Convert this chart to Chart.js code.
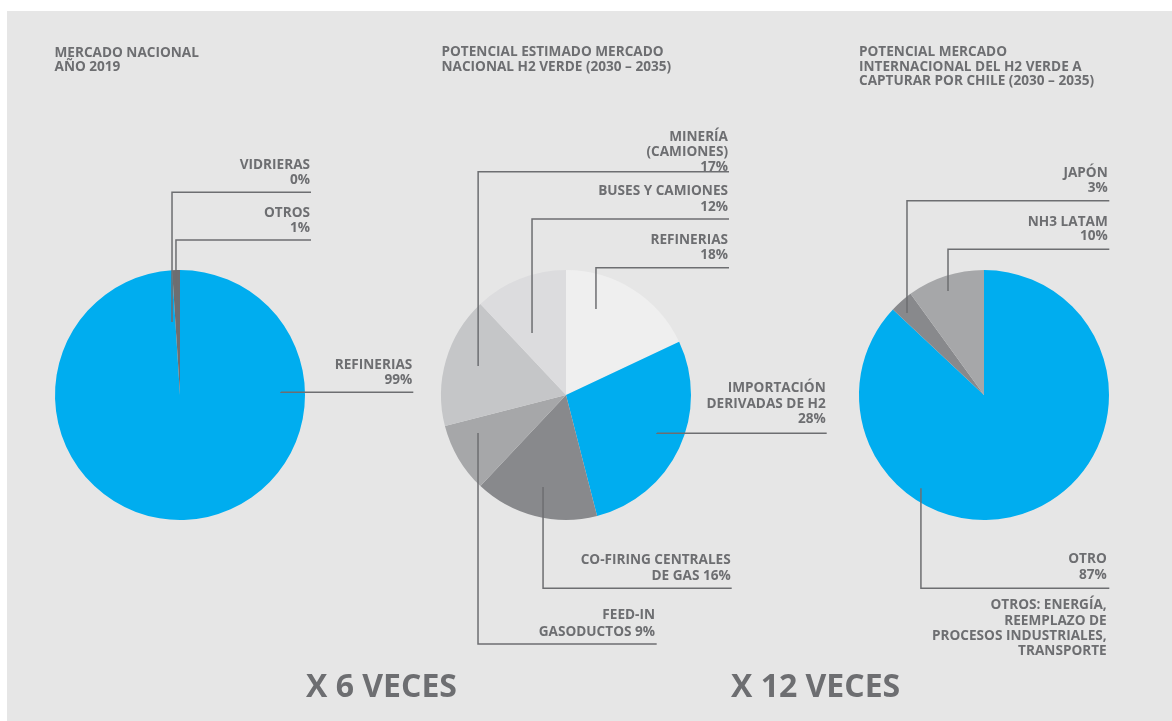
<!DOCTYPE html>
<html>
<head>
<meta charset="utf-8">
<script src="https://cdn.jsdelivr.net/npm/chart.js@4.4.1/dist/chart.umd.min.js"></script>
<style>
  html, body { margin: 0; padding: 0; background: #ffffff; width: 1172px; height: 721px; overflow: hidden; }
  #panel { position: absolute; left: 7px; top: 11px; width: 1165px; height: 710px; background: #e6e6e6; }
  canvas { position: absolute; left: 0; top: 0; pointer-events: none; }
</style>
</head>
<body>
<div id="panel"></div>
<canvas id="c1" width="1172" height="721"></canvas>
<canvas id="c2" width="1172" height="721"></canvas>
<canvas id="c3" width="1172" height="721"></canvas>
<script>
// ---------------- DATA ----------------
const pie1Names  = [['REFINERIAS'], ['VIDRIERAS'], ['OTROS']];
const pie1Values = [99, 0, 1];
const pie1Colors = ['#00adef', '#8a8b8e', '#6d6e71'];
const pie1Title  = ['MERCADO NACIONAL', 'AÑO 2019'];

const pie2Names  = [['REFINERIAS'], ['IMPORTACIÓN', 'DERIVADAS DE H2'], ['CO-FIRING CENTRALES', 'DE GAS'],
                    ['FEED-IN', 'GASODUCTOS'], ['MINERÍA', '(CAMIONES)'], ['BUSES Y CAMIONES']];
const pie2Values = [18, 28, 16, 9, 17, 12];
const pie2Colors = ['#efefef', '#00adef', '#88898c', '#a6a7a9', '#c5c6c8', '#dcdcde'];
const pie2Title  = ['POTENCIAL ESTIMADO MERCADO', 'NACIONAL H2 VERDE (2030 – 2035)'];
const pie2Growth = 'X 6 VECES';

const pie3Names  = [['OTRO'], ['JAPÓN'], ['NH3 LATAM']];
const pie3Values = [87, 3, 10];
const pie3Colors = ['#00adef', '#88898c', '#a6a7a9'];
const pie3Title  = ['POTENCIAL MERCADO', 'INTERNACIONAL DEL H2 VERDE A', 'CAPTURAR POR CHILE (2030 – 2035)'];
const pie3Note   = ['OTROS: ENERGÍA,', 'REEMPLAZO DE', 'PROCESOS INDUSTRIALES,', 'TRANSPORTE'];
const pie3Growth = 'X 12 VECES';

// ---------------- LAYOUT (label placement only) ----------------
const TEXT = '#6d6e71';
const FONT = 'bold 13.6px "Open Sans", "DejaVu Sans", sans-serif';
const BIG  = 'bold 32px "Open Sans", "DejaVu Sans", sans-serif';

// anchor: angle (deg, clockwise from top) & radius fraction inside the arc
const layout1 = [
  { ang: 88.3,  rf: 0.808, lineY: 392.3, endX: 413.3, right: 412.3, base: [369, 384], inline: false },
  { ang: 353.75, rf: 0.587, lineY: 192.3, endX: 311,  right: 310,   base: [169, 184], inline: false },
  { ang: 357.8, rf: 0.84,  lineY: 240,   endX: 311,   right: 310,   base: [216.5, 231.7], inline: false }
];
const layout2 = [
  { ang: 19.2,  rf: 0.729, lineY: 267.7, endX: 729,   right: 728,   base: [244, 258.5], inline: false },
  { ang: 112.7, rf: 0.789, lineY: 433.3, endX: 826.7, right: 825.7, base: [392.3, 408.3, 423.3], inline: false },
  { ang: 194,   rf: 0.759, lineY: 588.3, endX: 731.7, right: 730.7, base: [564.3, 580], inline: true },
  { ang: 246.6, rf: 0.767, lineY: 644,   endX: 656.7, right: 655,   base: [619.3, 635.7], inline: true },
  { ang: 288.2, rf: 0.74,  lineY: 171.7, endX: 729,   right: 728,   base: [141, 156, 171], inline: false },
  { ang: 331.3, rf: 0.566, lineY: 219,   endX: 729,   right: 728,   base: [195, 211], inline: false }
];
const layout3 = [
  { ang: 214.1, rf: 0.9,  lineY: 588.3, endX: 1109.3, right: 1106.7, base: [562.7, 579], inline: false },
  { ang: 316.8, rf: 0.9,  lineY: 200.7, endX: 1109.3, right: 1107.7, base: [176.7, 192.3], inline: false },
  { ang: 340.9, rf: 0.88, lineY: 249.3, endX: 1109.3, right: 1107.7, base: [225.7, 240], inline: false }
];

const annotPlugin = {
  id: 'annot',
  afterDraw(chart, args, opts) {
    const ctx = chart.ctx;
    const meta = chart.getDatasetMeta(0);
    const values = chart.data.datasets[0].data;
    ctx.save();
    ctx.fillStyle = TEXT;
    ctx.strokeStyle = TEXT;
    ctx.lineWidth = 1.5;
    ctx.font = FONT;
    ctx.textBaseline = 'alphabetic';
    // leaders + labels
    opts.layout.forEach((L, i) => {
      const arc = meta.data[i];
      const r = arc.outerRadius * L.rf;
      const t = L.ang * Math.PI / 180;
      const ax = arc.x + r * Math.sin(t);
      const ay = arc.y - r * Math.cos(t);
      ctx.beginPath();
      ctx.moveTo(ax, ay);
      ctx.lineTo(ax, L.lineY);
      ctx.lineTo(L.endX, L.lineY);
      ctx.stroke();
      const lines = opts.names[i].slice();
      const pct = values[i] + '%';
      if (L.inline) lines[lines.length - 1] = lines[lines.length - 1] + ' ' + pct;
      else lines.push(pct);
      ctx.textAlign = 'right';
      lines.forEach((s, k) => ctx.fillText(s, L.right, L.base[k]));
    });
    // title
    ctx.textAlign = 'left';
    opts.title.forEach((s, k) => ctx.fillText(s, opts.titleX, opts.titleBase[k]));
    // note
    if (opts.note) {
      ctx.textAlign = 'right';
      opts.note.forEach((s, k) => ctx.fillText(s, opts.noteX, opts.noteBase[k]));
    }
    // growth text
    if (opts.growth) {
      ctx.font = BIG;
      ctx.textAlign = 'left';
      ctx.fillText(opts.growth, opts.growthX, opts.growthY);
    }
    ctx.restore();
  }
};

function makePie(id, cx, names, values, colors, opts) {
  const R = 125, CY = 395, W = 1172, H = 721;
  return new Chart(document.getElementById(id), {
    type: 'pie',
    data: {
      labels: names.map(n => n.join(' ')),
      datasets: [{ data: values, backgroundColor: colors, borderWidth: 0, hoverOffset: 0, offset: 0 }]
    },
    options: {
      responsive: false,
      animation: false,
      devicePixelRatio: 1,
      layout: { padding: { left: cx - R, right: W - (cx + R), top: CY - R, bottom: H - (CY + R) } },
      plugins: {
        legend: { display: false },
        tooltip: { enabled: false },
        title: { display: false },
        annot: Object.assign({ names }, opts)
      },
      events: []
    },
    plugins: [annotPlugin]
  });
}

makePie('c1', 180, pie1Names, pie1Values, pie1Colors, {
  layout: layout1, title: pie1Title, titleX: 54.5, titleBase: [56.7, 71.3]
});
makePie('c2', 566, pie2Names, pie2Values, pie2Colors, {
  layout: layout2, title: pie2Title, titleX: 441.5, titleBase: [56, 70.7],
  growth: pie2Growth, growthX: 306, growthY: 697
});
makePie('c3', 984, pie3Names, pie3Values, pie3Colors, {
  layout: layout3, title: pie3Title, titleX: 859, titleBase: [56, 70.5, 85],
  note: pie3Note, noteX: 1106.7, noteBase: [609.3, 624.5, 639.8, 655],
  growth: pie3Growth, growthX: 731, growthY: 697
});
</script>
</body>
</html>
